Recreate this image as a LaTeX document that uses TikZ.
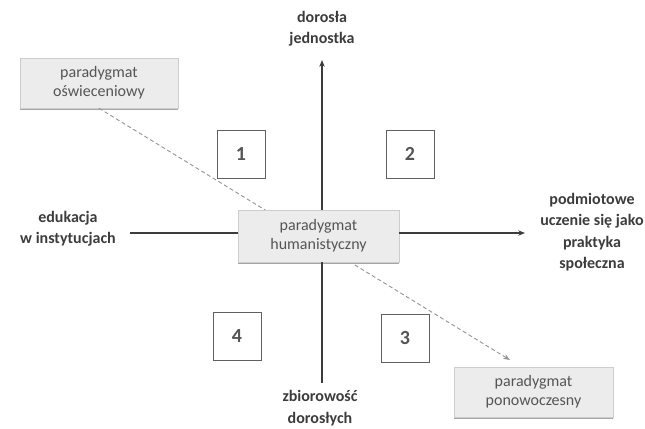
\documentclass[tikz,border=0pt]{standalone}
\usepackage{fontspec}
\setmainfont{Carlito}
\usetikzlibrary{arrows.meta,positioning,shadows}
\definecolor{boxfill}{RGB}{236,236,236}
\definecolor{boxline}{RGB}{205,205,205}
\definecolor{axiscol}{RGB}{60,60,60}
\definecolor{txtcol}{RGB}{85,85,85}
\definecolor{dashcol}{RGB}{150,150,150}
\tikzset{
  axisln/.style={line width=0.8pt, axiscol},
  axisarr/.style={axisln, -{Stealth[length=1.8mm,width=1.4mm]}},
  dashln/.style={dash pattern=on 3pt off 2pt, line width=0.7pt, dashcol, -{Stealth[length=1.8mm,width=1.4mm]}},
  parbox/.style={draw=boxline, fill=boxfill, align=center, text=txtcol,
    font=\fontsize{12}{14.5}\selectfont, inner sep=0pt,
    drop shadow={shadow xshift=0pt, shadow yshift=-1.5pt, fill=gray!70, opacity=1}},
  quadbox/.style={draw=gray!75!black, fill=white, line width=0.6pt, text=txtcol,
    font=\fontsize{15}{18}\bfseries\selectfont, minimum size=48*0.75pt, inner sep=0pt},
  axislab/.style={align=center, text=axiscol, font=\fontsize{12}{16}\bfseries\selectfont},
}

\begin{document}
\begin{tikzpicture}[x=0.75pt, y=-0.75pt]
    \useasboundingbox (0,0) rectangle (645,428);
    % paradigm boxes and dashed trajectory
    \node[parbox, minimum width=158*0.75pt, minimum height=50*0.75pt] (osw) at (99,83)
      {paradygmat\\oświeceniowy};
    \coordinate (dashend) at (510,360);
    \draw[dashln] (osw.south) -- (dashend);
    \node[parbox, minimum width=161*0.75pt, minimum height=52*0.75pt] (hum) at (318.5,236)
      {paradygmat\\humanistyczny};
    \node[parbox, minimum width=159*0.75pt, minimum height=50*0.75pt] (pono) at (533.5,392)
      {paradygmat\\ponowoczesny};
    % axes
    \coordinate (ytop) at (322,60);
    \coordinate (ybot) at (322,383);
    \coordinate (xleft) at (130,233);
    \coordinate (xright) at (525,233);
    \draw[axisarr] (ytop |- hum.north) -- (ytop);
    \draw[axisln] (ybot |- hum.south) -- (ybot);
    \draw[axisln] (xleft) -- (xleft -| hum.west);
    \draw[axisarr] (xright -| hum.east) -- (xright);
    \node[axislab] (top) at (322,29) {dorosła\\jednostka};
    \node[axislab] (bottom) at (320,408) {zbiorowość\\dorosłych};
    \node[axislab] (left) at (68,229) {edukacja\\w instytucjach};
    \node[axislab] (right) at (592,232) {podmiotowe\\uczenie się jako\\praktyka\\społeczna};
    % quadrants
    \node[quadbox] (q1) at (241,154) {1};
    \node[quadbox] (q2) at (410,154) {2};
    \node[quadbox] (q3) at (405,338) {3};
    \node[quadbox] (q4) at (237,336) {4};
\end{tikzpicture}
\end{document}
